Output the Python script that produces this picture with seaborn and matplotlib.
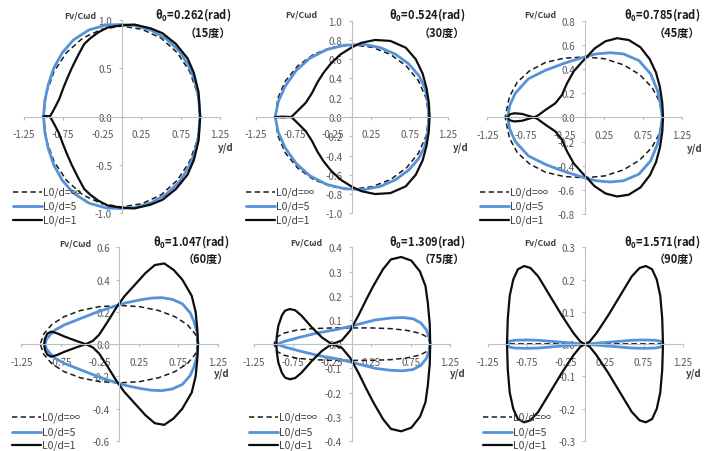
import matplotlib
matplotlib.use("Agg")
import matplotlib.pyplot as plt
import seaborn as sns
from matplotlib.lines import Line2D

sns.set_theme(style="white")
plt.rcParams['font.family'] = ['Noto Sans CJK JP', 'DejaVu Sans']
plt.rcParams['axes.unicode_minus'] = False
plt.rcParams['mathtext.default'] = 'regular'

# ---------------- data ----------------
angles_rad = ["0.262", "0.524", "0.785", "1.047", "1.309", "1.571"]
angles_deg = ["15", "30", "45", "60", "75", "90"]
series_labels = ["L0/d=∞", "L0/d=5", "L0/d=1"]
xtick_vals = [-1.25, -0.75, -0.25, 0.25, 0.75, 1.25]
xtick_labels = ["-1.25", "-0.75", "-0.25", "0.25", "0.75", "1.25"]
ytick_sets = [
    [-1.0, -0.5, 0.0, 0.5, 1.0],
    [-1.0, -0.8, -0.6, -0.4, -0.2, 0.0, 0.2, 0.4, 0.6, 0.8, 1.0],
    [-0.8, -0.6, -0.4, -0.2, 0.0, 0.2, 0.4, 0.6, 0.8],
    [-0.6, -0.4, -0.2, 0.0, 0.2, 0.4, 0.6],
    [-0.4, -0.3, -0.2, -0.1, 0.0, 0.1, 0.2, 0.3, 0.4],
    [-0.3, -0.2, -0.1, 0.0, 0.1, 0.2, 0.3],
]

# Upper branch of each closed curve (curves are symmetric about Fv=0)
# theta0 = 15 deg
p15_inf_x = [1.0, 0.966, 0.866, 0.707, 0.5, 0.259, 0.0, -0.259, -0.5, -0.707, -0.866, -0.966, -1.0]
p15_inf_y = [0.0, 0.24, 0.465, 0.66, 0.81, 0.9, 0.935, 0.9, 0.81, 0.66, 0.465, 0.24, 0.0]
p15_l5_x = [1.0, 0.98, 0.93, 0.85, 0.73, 0.57, 0.38, 0.17, -0.02, -0.2, -0.42, -0.62, -0.76, -0.87, -0.94, -0.985, -1.0]
p15_l5_y = [0.0, 0.2, 0.38, 0.53, 0.68, 0.8, 0.89, 0.94, 0.95, 0.945, 0.895, 0.79, 0.66, 0.5, 0.33, 0.16, 0.0]
p15_l1_x = [1.0, 0.98, 0.92, 0.84, 0.69, 0.52, 0.37, 0.16, -0.02, -0.18, -0.3, -0.4, -0.48, -0.56, -0.64, -0.7, -0.75, -0.8, -0.85, -0.89, -0.92, -0.96, -1.0]
p15_l1_y = [0.0, 0.25, 0.45, 0.6, 0.75, 0.86, 0.91, 0.95, 0.94, 0.92, 0.87, 0.81, 0.75, 0.63, 0.5, 0.39, 0.29, 0.18, 0.1, 0.04, 0.0, 0.005, 0.0]

# theta0 = 30 deg
p30_inf_x = [1.0, 0.966, 0.866, 0.707, 0.5, 0.259, 0.0, -0.259, -0.5, -0.707, -0.866, -0.966, -1.0]
p30_inf_y = [0.0, 0.194, 0.375, 0.53, 0.65, 0.724, 0.75, 0.724, 0.65, 0.53, 0.375, 0.194, 0.0]
p30_l5_x = [1.0, 0.99, 0.95, 0.87, 0.74, 0.57, 0.37, 0.15, -0.1, -0.33, -0.55, -0.73, -0.87, -0.96, -1.0]
p30_l5_y = [0.0, 0.15, 0.3, 0.43, 0.55, 0.65, 0.72, 0.755, 0.745, 0.7, 0.61, 0.48, 0.32, 0.16, 0.0]
p30_l1_x = [1.01, 1.0, 0.97, 0.92, 0.83, 0.7, 0.5, 0.3, 0.12, 0.0, -0.15, -0.27, -0.37, -0.45, -0.52, -0.6, -0.7, -0.79, -0.9, -1.0]
p30_l1_y = [0.0, 0.15, 0.3, 0.45, 0.6, 0.72, 0.79, 0.8, 0.77, 0.725, 0.65, 0.56, 0.46, 0.36, 0.25, 0.15, 0.07, 0.0, 0.004, 0.0]

# theta0 = 45 deg
p45_inf_x = [1.0, 0.966, 0.866, 0.707, 0.5, 0.259, 0.0, -0.259, -0.5, -0.707, -0.866, -0.966, -1.02]
p45_inf_y = [0.0, 0.13, 0.25, 0.355, 0.435, 0.485, 0.5, 0.49, 0.455, 0.385, 0.29, 0.17, 0.0]
p45_l5_x = [1.0, 0.98, 0.94, 0.85, 0.7, 0.5, 0.33, 0.15, 0.0, -0.25, -0.5, -0.72, -0.89, -0.96, -0.99]
p45_l5_y = [0.0, 0.1, 0.22, 0.36, 0.47, 0.525, 0.535, 0.525, 0.5, 0.45, 0.39, 0.32, 0.2, 0.1, 0.0]
p45_l1_x = [1.01, 1.0, 0.97, 0.92, 0.84, 0.72, 0.57, 0.42, 0.27, 0.13, 0.03, -0.03, -0.14, -0.226, -0.29, -0.376, -0.505, -0.6, -0.65, -0.72, -0.8, -0.9, -0.96, -0.99]
p45_l1_y = [0.0, 0.12, 0.25, 0.37, 0.48, 0.58, 0.64, 0.655, 0.63, 0.57, 0.5, 0.46, 0.38, 0.28, 0.185, 0.116, 0.06, 0.015, 0.0, 0.012, 0.028, 0.034, 0.025, 0.0]

# theta0 = 60 deg
p60_inf_x = [1.0, 0.966, 0.866, 0.707, 0.5, 0.259, 0.0, -0.259, -0.5, -0.707, -0.866, -0.966, -1.01]
p60_inf_y = [0.0, 0.062, 0.12, 0.17, 0.208, 0.232, 0.24, 0.232, 0.208, 0.17, 0.12, 0.062, 0.0]
p60_l5_x = [1.0, 0.99, 0.95, 0.9, 0.8, 0.67, 0.54, 0.4, 0.27, 0.1, 0.0, -0.28, -0.49, -0.7, -0.82, -0.88, -0.93, -0.95]
p60_l5_y = [0.0, 0.07, 0.14, 0.195, 0.25, 0.278, 0.288, 0.285, 0.275, 0.258, 0.245, 0.2, 0.16, 0.12, 0.088, 0.06, 0.03, 0.0]
p60_l1_x = [1.0, 0.99, 0.97, 0.92, 0.8, 0.69, 0.57, 0.45, 0.33, 0.2, 0.06, -0.045, -0.15, -0.26, -0.34, -0.43, -0.55, -0.7, -0.8, -0.87, -0.92, -0.95, -0.96]
p60_l1_y = [0.0, 0.1, 0.2, 0.3, 0.4, 0.46, 0.5, 0.49, 0.44, 0.37, 0.295, 0.223, 0.14, 0.058, 0.02, 0.0, 0.02, 0.047, 0.068, 0.078, 0.065, 0.035, 0.0]

# theta0 = 75 deg
p75_inf_x = [1.0, 0.97, 0.87, 0.7, 0.5, 0.25, 0.0, -0.25, -0.5, -0.7, -0.87, -0.95, -0.99]
p75_inf_y = [0.0, 0.028, 0.045, 0.057, 0.064, 0.067, 0.067, 0.067, 0.064, 0.058, 0.045, 0.03, 0.0]
p75_l5_x = [1.0, 0.99, 0.95, 0.88, 0.78, 0.65, 0.5, 0.3, 0.0, -0.2, -0.425, -0.68, -0.85, -0.955]
p75_l5_y = [0.0, 0.025, 0.06, 0.088, 0.105, 0.11, 0.108, 0.1, 0.075, 0.06, 0.047, 0.027, 0.012, 0.0]
p75_l1_x = [1.0, 0.995, 0.97, 0.94, 0.87, 0.76, 0.63, 0.5, 0.4, 0.275, 0.19, 0.085, -0.02, -0.127, -0.255, -0.38, -0.51, -0.64, -0.72, -0.79, -0.85, -0.89, -0.935, -0.955, -0.96]
p75_l1_y = [0.0, 0.08, 0.17, 0.24, 0.3, 0.345, 0.36, 0.35, 0.31, 0.24, 0.187, 0.118, 0.056, 0.015, 0.0, 0.028, 0.07, 0.118, 0.14, 0.145, 0.138, 0.118, 0.076, 0.03, 0.0]

# theta0 = 90 deg
p90_inf_x = [1.0, -1.0]
p90_inf_y = [0.0, 0.0]
p90_l5_x = [1.0, 0.97, 0.9, 0.75, 0.6, 0.45, 0.3, 0.15, 0.0, -0.15, -0.3, -0.45, -0.6, -0.75, -0.9, -0.97, -1.0]
p90_l5_y = [0.0, 0.009, 0.012, 0.013, 0.012, 0.009, 0.006, 0.003, 0.0, 0.003, 0.006, 0.009, 0.012, 0.013, 0.012, 0.009, 0.0]
p90_l1_x = [1.0, 0.99, 0.965, 0.92, 0.86, 0.78, 0.7, 0.6, 0.45, 0.3, 0.15, 0.06, 0.0, -0.06, -0.15, -0.3, -0.45, -0.6, -0.7, -0.78, -0.86, -0.92, -0.965, -0.99, -1.0]
p90_l1_y = [0.0, 0.08, 0.15, 0.2, 0.232, 0.242, 0.236, 0.21, 0.15, 0.09, 0.035, 0.008, 0.0, 0.008, 0.035, 0.09, 0.15, 0.21, 0.236, 0.242, 0.232, 0.2, 0.15, 0.08, 0.0]

panels_data = [
    [(p15_inf_x, p15_inf_y), (p15_l5_x, p15_l5_y), (p15_l1_x, p15_l1_y)],
    [(p30_inf_x, p30_inf_y), (p30_l5_x, p30_l5_y), (p30_l1_x, p30_l1_y)],
    [(p45_inf_x, p45_inf_y), (p45_l5_x, p45_l5_y), (p45_l1_x, p45_l1_y)],
    [(p60_inf_x, p60_inf_y), (p60_l5_x, p60_l5_y), (p60_l1_x, p60_l1_y)],
    [(p75_inf_x, p75_inf_y), (p75_l5_x, p75_l5_y), (p75_l1_x, p75_l1_y)],
    [(p90_inf_x, p90_inf_y), (p90_l5_x, p90_l5_y), (p90_l1_x, p90_l1_y)],
]

# ---------------- layout / style ----------------
W, H = 709, 452
BLUE = "#5592D8"
series_styles = [
    dict(color="#1a1a1a", linewidth=1.1, linestyle=(0, (3.5, 2.2))),
    dict(color=BLUE, linewidth=2.0, linestyle="-"),
    dict(color="#0d0d0d", linewidth=1.6, linestyle="-"),
]
ax_boxes = [(24, 20.7, 219.7, 214.3), (256, 21.7, 448, 214.3), (487.3, 21.7, 681.7, 215),
            (21.4, 248.3, 217.6, 442), (253.6, 248.3, 449.8, 442), (487.5, 248.3, 682.5, 442)]
fv_pos = [(80, 16), (301, 15), (540, 15), (75, 244.3), (306, 242.7), (540, 242.7)]
title_right = [231, 465, 700, 229.3, 465.3, 700]
title_y = [(15, 33)] * 3 + [(241.7, 259.3)] * 3
yd_pos = [(234, 147.5), (469, 148), (703, 149), (230, 374), (466, 374), (702, 374)]
legend_x = [13, 246, 480, 11.7, 249, 483]
legend_rows = [(192.5, 207, 221)] * 3 + [(418, 432.5, 446)] * 3


def fx(px):
    return px / W


def fy(py):
    return 1 - py / H


fig = plt.figure(figsize=(W / 100, H / 100), dpi=100, facecolor="white")

for i in range(6):
    l, t, r, b = ax_boxes[i]
    ax = fig.add_axes([fx(l), fy(b), (r - l) / W, (b - t) / H])
    ax.patch.set_visible(False)
    for (xs, ys), st in zip(panels_data[i], series_styles):
        for sgn in (1, -1):
            sns.lineplot(x=xs, y=[sgn * v for v in ys], sort=False, estimator=None, ax=ax,
                         legend=False, solid_capstyle="round", solid_joinstyle="round", **st)
    ylim = max(ytick_sets[i])
    ax.set_xlim(-1.25, 1.25)
    ax.set_ylim(-ylim, ylim)
    ax.set_xlabel("")
    ax.set_ylabel("")
    ax.grid(False)
    for s in ("top", "right"):
        ax.spines[s].set_visible(False)
    ax.spines["left"].set_position(("data", 0))
    ax.spines["bottom"].set_position(("data", 0))
    for s in ("left", "bottom"):
        ax.spines[s].set_color("#BFBFBF")
        ax.spines[s].set_linewidth(0.8)
    ax.set_xticks(xtick_vals)
    ax.set_xticklabels(xtick_labels)
    ax.set_yticks(ytick_sets[i])
    ax.set_yticklabels([f"{v:.1f}" for v in ytick_sets[i]])
    ax.tick_params(axis="both", which="major", length=2.5, width=0.8, color="#BFBFBF",
                   labelsize=7, labelcolor="#595959", direction="out")
    ax.tick_params(axis="x", bottom=True, pad=6.5)
    ax.tick_params(axis="y", left=True, pad=4.5)

    # texts
    fig.text(fx(fv_pos[i][0]), fy(fv_pos[i][1]), "Fv/Cωd", ha="center", va="center",
             fontsize=6.3, fontweight="bold", color="#404040")
    fig.text(fx(title_right[i]), fy(title_y[i][0]),
             "θ$_{0}$=" + angles_rad[i] + "(rad)", ha="right", va="center",
             fontsize=8, fontweight="bold", color="#1a1a1a")
    fig.text(fx(title_right[i]), fy(title_y[i][1]), "（" + angles_deg[i] + "度）",
             ha="right", va="center", fontsize=8, fontweight="bold", color="#1a1a1a")
    fig.text(fx(yd_pos[i][0]), fy(yd_pos[i][1]), "y/d", ha="right", va="center",
             fontsize=7, fontweight="bold", color="#404040")

    # legend
    for lab, st, ry in zip(series_labels, series_styles, legend_rows[i]):
        x0 = legend_x[i]
        fig.add_artist(Line2D([fx(x0), fx(x0 + 29)], [fy(ry), fy(ry)], transform=fig.transFigure,
                              color=st["color"], linewidth=st["linewidth"], linestyle=st["linestyle"]))
        fig.text(fx(x0 + 30), fy(ry), lab, ha="left", va="center", fontsize=7.5, color="#404040")

fig.savefig("out.png", dpi=100, facecolor="white")
